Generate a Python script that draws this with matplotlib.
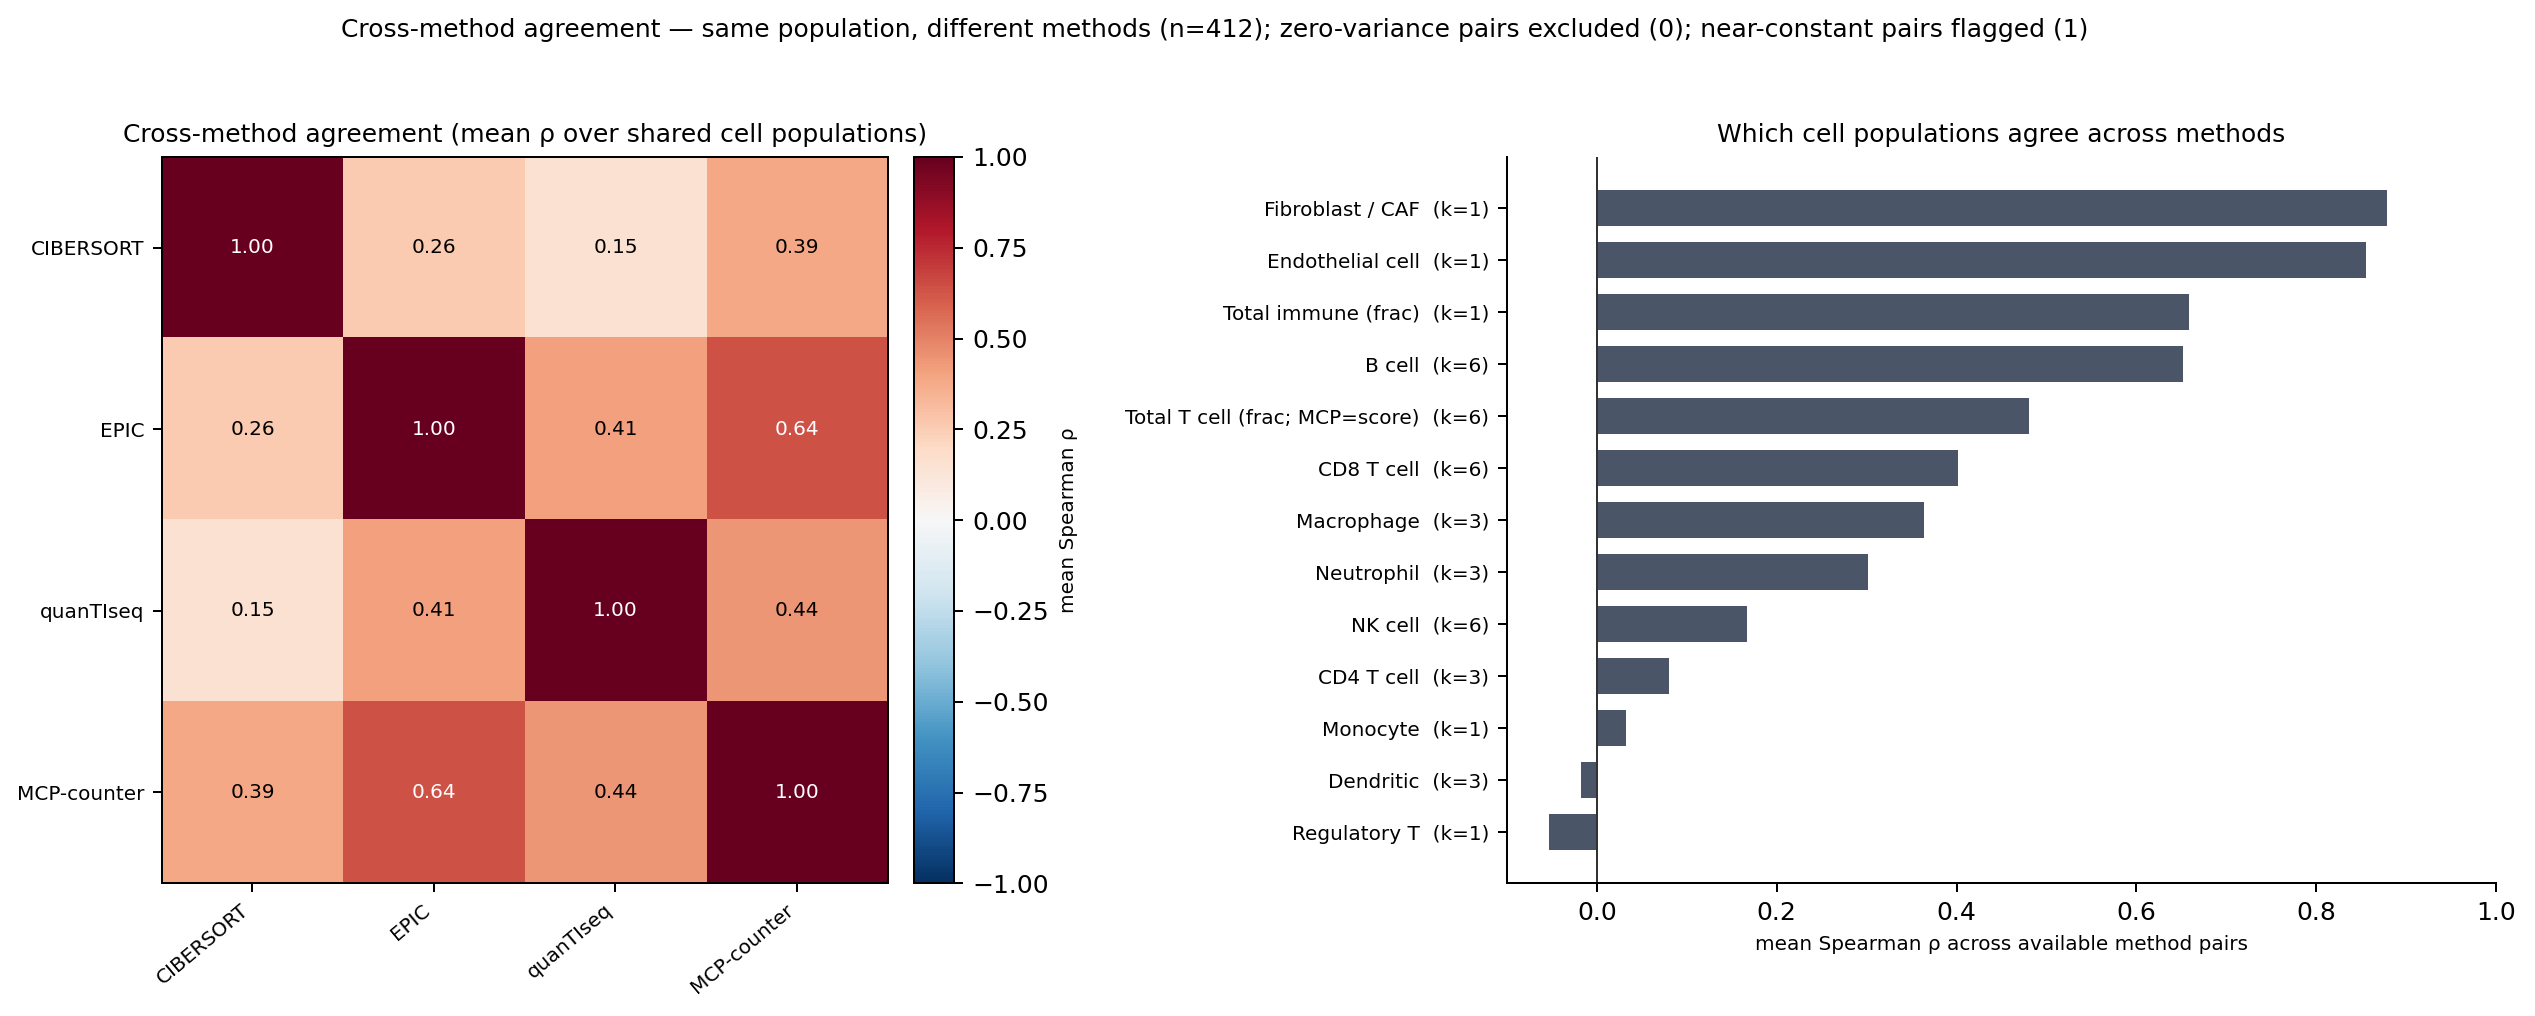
import numpy as np
import matplotlib
matplotlib.use("Agg")
import matplotlib.pyplot as plt

methods = ["CIBERSORT", "EPIC", "quanTIseq", "MCP-counter"]
agreement = np.array([
    [1.00, 0.26, 0.15, 0.39],
    [0.26, 1.00, 0.41, 0.64],
    [0.15, 0.41, 1.00, 0.44],
    [0.39, 0.64, 0.44, 1.00],
])

populations = ["Fibroblast / CAF", "Endothelial cell", "Total immune (frac)", "B cell",
               "Total T cell (frac; MCP=score)", "CD8 T cell", "Macrophage", "Neutrophil",
               "NK cell", "CD4 T cell", "Monocyte", "Dendritic", "Regulatory T"]
k_pairs = [1, 1, 1, 6, 6, 6, 3, 3, 6, 3, 1, 3, 1]
pop_rho = [0.879, 0.855, 0.659, 0.652, 0.481, 0.402, 0.364, 0.302,
           0.167, 0.080, 0.032, -0.018, -0.053]

dpi = 180
fig = plt.figure(figsize=(2535 / dpi, 1016 / dpi), dpi=dpi)
fig.suptitle("Cross-method agreement \u2014 same population, different methods (n=412); "
             "zero-variance pairs excluded (0); near-constant pairs flagged (1)",
             fontsize=10, x=0.479, y=0.982)

# heatmap
ax1 = fig.add_axes([0.0638, 0.1306, 0.2864, 0.7149])
im = ax1.imshow(agreement, cmap="RdBu_r", vmin=-1, vmax=1)
ax1.set_xticks(range(len(methods)))
ax1.set_yticks(range(len(methods)))
ax1.set_xticklabels(methods, rotation=40, ha="right", fontsize=8)
ax1.set_yticklabels(methods, fontsize=8)
for i in range(len(methods)):
    for j in range(len(methods)):
        v = agreement[i, j]
        ax1.text(j, i, f"{v:.2f}", ha="center", va="center", fontsize=8,
                 color="white" if abs(v) > 0.5 else "black")
ax1.set_title("Cross-method agreement (mean \u03c1 over shared cell populations)", fontsize=10)

cax = fig.add_axes([0.3605, 0.1306, 0.016, 0.7149])
cb = fig.colorbar(im, cax=cax)
cb.set_label("mean Spearman \u03c1", fontsize=8)

# bar chart
ax2 = fig.add_axes([0.5944, 0.1306, 0.3903, 0.7149])
labels = [f"{p}  (k={k})" for p, k in zip(populations, k_pairs)]
y = np.arange(len(populations))
ax2.barh(y, pop_rho, color="#4a5568", height=0.7)
ax2.set_yticks(y)
ax2.set_yticklabels(labels, fontsize=8)
ax2.invert_yaxis()
ax2.axvline(0, color="#333333", lw=0.8)
ax2.set_xlim(-0.1, 1.0)
ax2.set_xlabel("mean Spearman \u03c1 across available method pairs", fontsize=8)
ax2.set_title("Which cell populations agree across methods", fontsize=10)
ax2.spines["top"].set_visible(False)
ax2.spines["right"].set_visible(False)

fig.savefig("out.png", dpi=dpi)
